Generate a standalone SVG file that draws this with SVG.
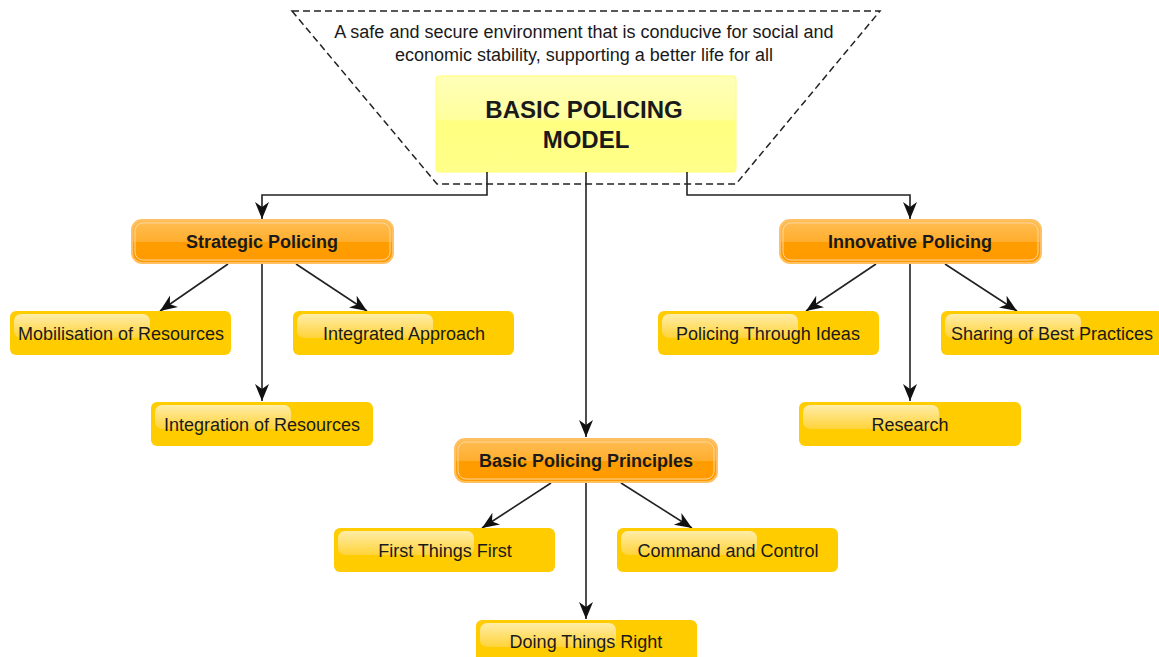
<svg xmlns="http://www.w3.org/2000/svg" width="1159" height="657" viewBox="0 0 1159 657">
<style>
.t{font-family:"Liberation Sans",Arial,sans-serif;fill:#1a1a1a;text-anchor:middle}
.lbl{font-size:18px}
.olbl{font-size:18px;font-weight:bold}
.conn{stroke:#222;stroke-width:1.6;fill:none;marker-end:url(#arr)}
.ybox{fill:#FFCC00}
.gloss{fill:url(#gl)}
.obox{fill:url(#og);stroke:#FFC061;stroke-width:2}
.oin{fill:none;stroke:#FFD59A;stroke-width:1}
</style>
<defs>
<marker id="arr" markerWidth="20" markerHeight="18" refX="17" refY="9" orient="auto" markerUnits="userSpaceOnUse">
<path d="M0,2 L17,9 L0,16 L5,9 Z" fill="#111"/>
</marker>
<linearGradient id="gl" x1="0" y1="0" x2="0" y2="1">
<stop offset="0" stop-color="#FFEDA8"/>
<stop offset="1" stop-color="#FFD339"/>
</linearGradient>
<linearGradient id="og" x1="0" y1="0" x2="0" y2="1">
<stop offset="0" stop-color="#FFBE55"/>
<stop offset="0.5" stop-color="#FFAE2E"/>
<stop offset="0.52" stop-color="#FF9D00"/>
<stop offset="1" stop-color="#FF9A00"/>
</linearGradient>
<linearGradient id="mg" x1="0" y1="0" x2="0" y2="1">
<stop offset="0" stop-color="#FFFFB8"/>
<stop offset="0.45" stop-color="#FFFF9E"/>
<stop offset="0.47" stop-color="#FFFF80"/>
<stop offset="1" stop-color="#FFFF8A"/>
</linearGradient>
</defs>
<rect width="1159" height="657" fill="#fff"/>

<g id="frame">
<path d="M292,11 L880,11 L736,184 L437,184 Z" fill="none" stroke="#222" stroke-width="1.5" stroke-dasharray="7,4"/>
<text class="t" x="584" y="38" font-size="18">A safe and secure environment that is conducive for social and</text>
<text class="t" x="584" y="61" font-size="18">economic stability, supporting a better life for all</text>
</g>

<g id="main">
<rect x="436" y="76" width="300" height="96" rx="3" fill="url(#mg)" stroke="#FFFF70" stroke-width="1"/>
<text class="t" x="584" y="118" font-size="24" font-weight="bold">BASIC POLICING</text>
<text class="t" x="586" y="148" font-size="24" font-weight="bold">MODEL</text>
</g>

<g id="connectors">
<path class="conn" d="M487,172 V195 H262 V219"/>
<path class="conn" d="M586,172 V437"/>
<path class="conn" d="M687,172 V195 H910 V219"/>
<path class="conn" d="M228,264 L160,311"/>
<path class="conn" d="M262,264 V401"/>
<path class="conn" d="M296,264 L367,311"/>
<path class="conn" d="M876,264 L806,311"/>
<path class="conn" d="M910,264 V401"/>
<path class="conn" d="M945,264 L1017,311"/>
<path class="conn" d="M551,483 L482,528"/>
<path class="conn" d="M586,483 V619"/>
<path class="conn" d="M621,483 L692,528"/>
</g>

<g id="strategic">
<rect class="obox" x="132" y="220" width="261" height="43" rx="10"/>
<rect class="oin" x="135" y="223" width="255" height="37" rx="8"/>
<text class="t olbl" x="262" y="248">Strategic Policing</text>
</g>
<g id="innovative">
<rect class="obox" x="780" y="220" width="261" height="43" rx="10"/>
<rect class="oin" x="783" y="223" width="255" height="37" rx="8"/>
<text class="t olbl" x="910" y="248">Innovative Policing</text>
</g>
<g id="principles">
<rect class="obox" x="455" y="439" width="262" height="43" rx="10"/>
<rect class="oin" x="458" y="442" width="256" height="37" rx="8"/>
<text class="t olbl" x="586" y="467">Basic Policing Principles</text>
</g>

<g id="mobilisation">
<rect class="ybox" x="10" y="311" width="221" height="44" rx="6"/>
<rect class="gloss" x="14" y="314" width="136" height="24" rx="7"/>
<text class="t lbl" x="121" y="340">Mobilisation of Resources</text>
</g>
<g id="integrated">
<rect class="ybox" x="293" y="311" width="221" height="44" rx="6"/>
<rect class="gloss" x="297" y="314" width="136" height="24" rx="7"/>
<text class="t lbl" x="404" y="340">Integrated Approach</text>
</g>
<g id="integration">
<rect class="ybox" x="151" y="402" width="222" height="44" rx="6"/>
<rect class="gloss" x="155" y="405" width="136" height="24" rx="7"/>
<text class="t lbl" x="262" y="431">Integration of Resources</text>
</g>
<g id="ideas">
<rect class="ybox" x="658" y="311" width="221" height="44" rx="6"/>
<rect class="gloss" x="662" y="314" width="136" height="24" rx="7"/>
<text class="t lbl" x="768" y="340">Policing Through Ideas</text>
</g>
<g id="sharing">
<rect class="ybox" x="941" y="311" width="222" height="44" rx="6"/>
<rect class="gloss" x="945" y="314" width="136" height="24" rx="7"/>
<text class="t lbl" x="1052" y="340">Sharing of Best Practices</text>
</g>
<g id="research">
<rect class="ybox" x="799" y="402" width="222" height="44" rx="6"/>
<rect class="gloss" x="803" y="405" width="136" height="24" rx="7"/>
<text class="t lbl" x="910" y="431">Research</text>
</g>
<g id="first">
<rect class="ybox" x="334" y="528" width="221" height="44" rx="6"/>
<rect class="gloss" x="338" y="531" width="136" height="24" rx="7"/>
<text class="t lbl" x="445" y="557">First Things First</text>
</g>
<g id="command">
<rect class="ybox" x="617" y="528" width="221" height="44" rx="6"/>
<rect class="gloss" x="621" y="531" width="136" height="24" rx="7"/>
<text class="t lbl" x="728" y="557">Command and Control</text>
</g>
<g id="doing">
<rect class="ybox" x="476" y="620" width="221" height="44" rx="6"/>
<rect class="gloss" x="480" y="623" width="136" height="24" rx="7"/>
<text class="t lbl" x="586" y="648">Doing Things Right</text>
</g>
</svg>
